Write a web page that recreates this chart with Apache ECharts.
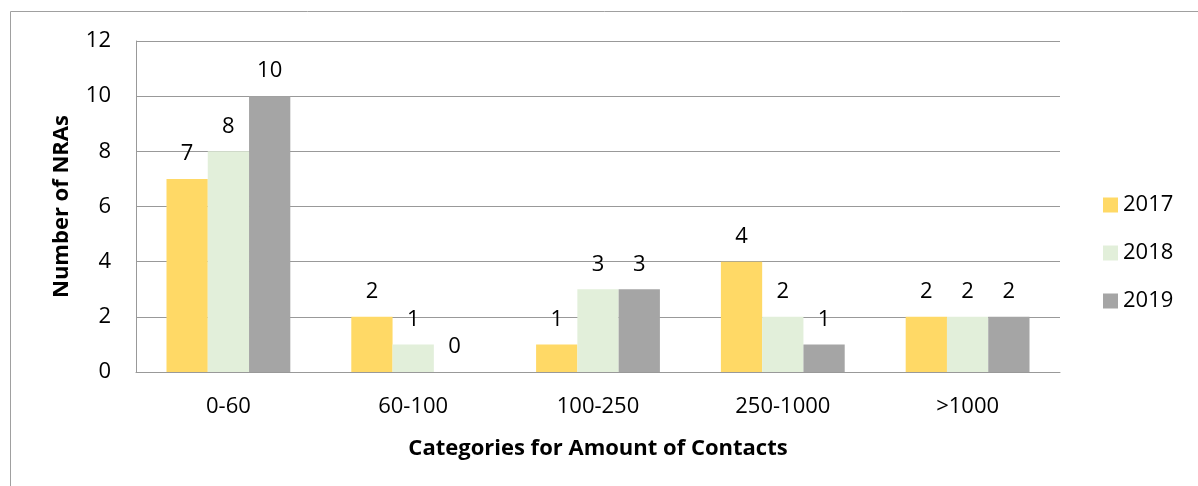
<!DOCTYPE html>
<html>
<head>
<meta charset="utf-8">
<script src="https://cdn.jsdelivr.net/npm/echarts@6/dist/echarts.min.js"></script>
<style>
  html, body { margin: 0; padding: 0; background: #fff; }
  #main { width: 1198px; height: 486px; }
</style>
</head>
<body>
<div id="main"></div>
<script>
// data
var categories = ['0-60', '60-100', '100-250', '250-1000', '>1000'];
var years = ['2017', '2018', '2019'];
var v2017 = [7, 2, 1, 4, 2];
var v2018 = [8, 1, 3, 2, 2];
var v2019 = [10, 0, 3, 1, 2];
var colors = ['#FFD966', '#E2EFDA', '#A5A5A5'];

var font = '"Open Sans", "Noto Sans", sans-serif';

var chart = echarts.init(document.getElementById('main'));

function makeSeries(name, data, color) {
  return {
    name: name,
    type: 'bar',
    data: data,
    barGap: '0%',
    barCategoryGap: '33%',
    itemStyle: { color: color },
    label: {
      show: true,
      position: 'top',
      distance: 14,
      color: '#000',
      fontFamily: font,
      fontSize: 22
    }
  };
}

chart.setOption({
  animation: false,
  textStyle: { fontFamily: font },
  graphic: [{
    // outer chart frame
    type: 'rect',
    shape: { x: 10.5, y: 11.5, width: 1220, height: 520 },
    style: { fill: 'none', stroke: '#a0a0a0', lineWidth: 1 },
    silent: true
  }],
  grid: { left: 136, right: 138, top: 41, bottom: 114 },
  legend: {
    orient: 'vertical',
    left: 1098,
    top: 189,
    itemWidth: 15,
    itemHeight: 15,
    itemGap: 26,
    icon: 'rect',
    data: years,
    textStyle: { color: '#000', fontFamily: font, fontSize: 22, lineHeight: 22 }
  },
  xAxis: {
    type: 'category',
    data: categories,
    name: 'Categories for Amount of Contacts',
    nameLocation: 'middle',
    nameGap: 66,
    nameTextStyle: { color: '#000', fontFamily: font, fontSize: 22, fontWeight: 'bold' },
    axisLine: { show: true, lineStyle: { color: '#999', width: 1 } },
    axisTick: { show: false },
    axisLabel: { color: '#000', fontFamily: font, fontSize: 22, margin: 24 }
  },
  yAxis: {
    type: 'value',
    min: 0,
    max: 12,
    interval: 2,
    name: 'Number of NRAs',
    nameLocation: 'middle',
    nameRotate: 90,
    nameGap: 63,
    nameTextStyle: { color: '#000', fontFamily: font, fontSize: 22, fontWeight: 'bold' },
    axisLine: { show: true, lineStyle: { color: '#999', width: 1 } },
    axisTick: { show: false },
    axisLabel: { color: '#000', fontFamily: font, fontSize: 22, margin: 25 },
    splitLine: { show: true, lineStyle: { color: '#999', width: 1 } }
  },
  series: [
    makeSeries(years[0], v2017, colors[0]),
    makeSeries(years[1], v2018, colors[1]),
    makeSeries(years[2], v2019, colors[2])
  ]
});
</script>
</body>
</html>
